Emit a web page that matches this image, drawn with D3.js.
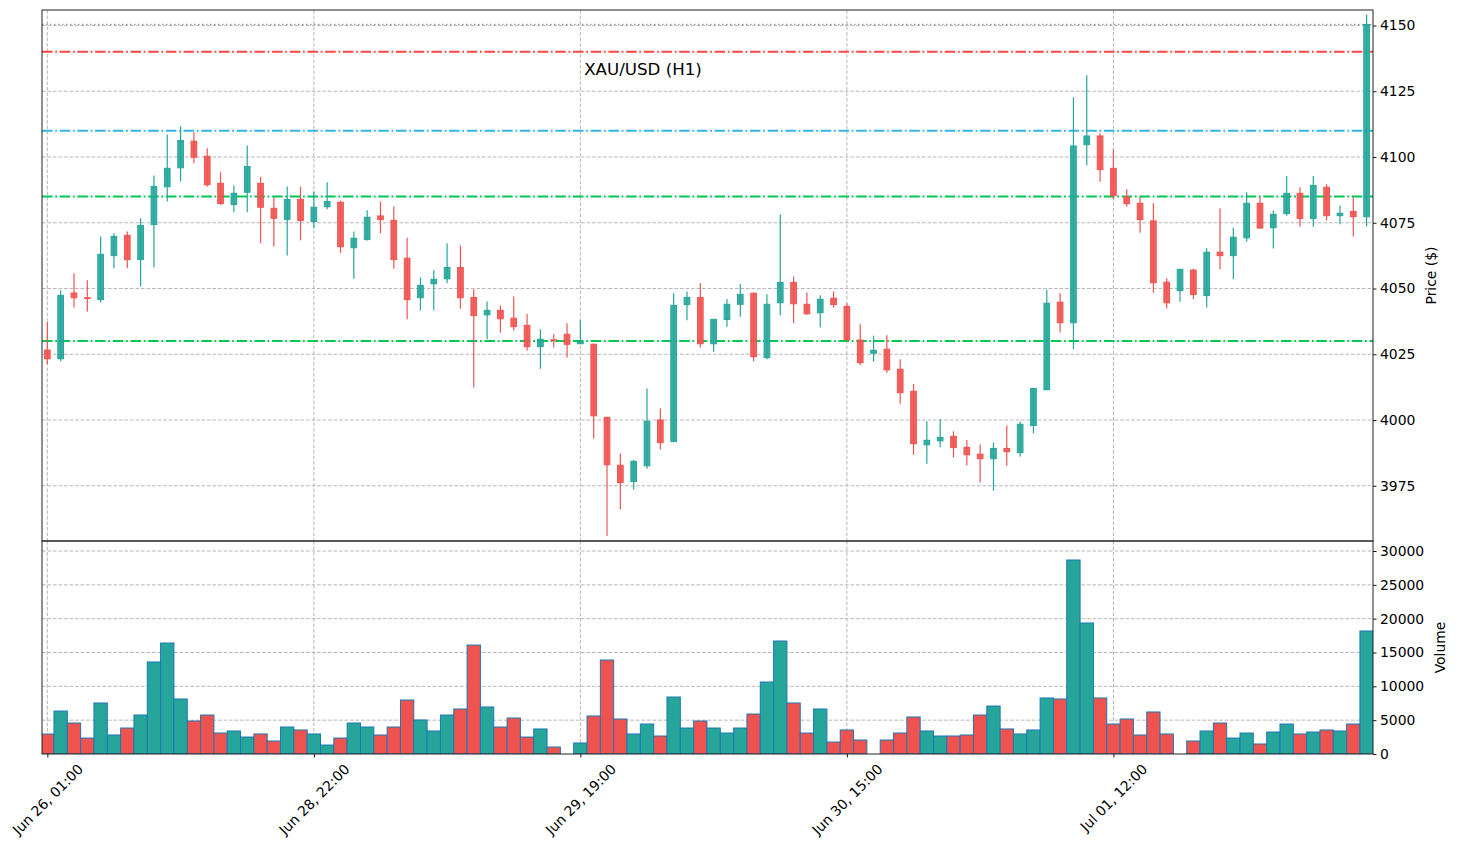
<!DOCTYPE html>
<html><head><meta charset="utf-8">
<script src="https://cdn.jsdelivr.net/npm/d3@7"></script>
<style>body{margin:0;background:#fff}svg{display:block;font-family:"DejaVu Sans",sans-serif}</style>
</head><body><svg id="c" width="1457" height="849"></svg>
<script>
const opens = [4026.6,4023.3,4048.3,4046.5,4045.8,4062.5,4070.2,4061.0,4074.3,4088.7,
4095.9,4106.0,4100.3,4090.0,4081.9,4086.6,4090.0,4080.5,4076.3,4083.9,
4075.5,4081.1,4082.8,4065.5,4068.6,4077.6,4075.9,4061.5,4046.5,4051.8,
4053.7,4058.0,4046.6,4040.0,4041.7,4038.7,4036.0,4027.9,4030.5,4032.6,
4029.0,4028.8,4001.0,3982.8,3976.6,3982.6,4000.0,3991.8,4043.9,4046.6,
4029.0,4038.2,4044.0,4048.2,4023.7,4044.6,4052.3,4044.0,4040.8,4046.3,
4043.2,4030.4,4025.4,4026.9,4019.3,4010.9,3990.6,3992.1,3993.8,3989.6,
3987.0,3985.3,3989.2,3987.6,3997.9,4011.5,4044.8,4037.0,4104.7,4108.0,
4095.7,4084.9,4082.4,4075.7,4052.4,4049.2,4057.0,4047.3,4063.8,4062.5,
4069.3,4082.4,4073.1,4078.5,4086.2,4076.6,4088.5,4077.7,4079.3,4077.3];
const highs = [4037.3,4049.3,4055.8,4053.1,4069.8,4071.0,4071.7,4076.7,4093.0,4108.6,
4111.7,4109.4,4103.3,4094.2,4089.2,4104.4,4092.5,4084.7,4088.8,4088.7,
4086.9,4090.4,4083.4,4071.7,4079.8,4083.1,4081.2,4069.3,4054.2,4056.9,
4067.2,4066.4,4049.7,4045.1,4043.6,4047.0,4040.3,4034.5,4032.6,4036.8,
4038.0,4029.1,4001.2,3987.3,3984.8,4012.0,4004.4,4048.2,4048.9,4052.1,
4038.3,4046.0,4051.7,4048.5,4047.8,4078.1,4054.6,4048.5,4047.4,4048.9,
4044.4,4036.4,4032.1,4032.2,4023.1,4013.7,3999.5,4000.3,3995.7,3992.4,
3990.7,3991.5,3997.9,3999.4,4012.0,4049.6,4048.2,4122.7,4131.1,4109.0,
4102.9,4087.7,4084.7,4082.4,4053.9,4057.3,4057.5,4065.3,4080.5,4073.1,
4086.6,4084.9,4079.7,4092.8,4088.5,4092.8,4089.6,4081.6,4084.7,4154.2];
const lows = [4021.3,4022.3,4042.8,4041.3,4044.7,4057.7,4057.7,4050.8,4058.0,4083.1,
4090.7,4097.6,4088.7,4081.8,4079.0,4079.0,4067.2,4066.0,4062.6,4068.3,
4072.9,4080.1,4063.6,4053.7,4068.3,4071.0,4057.5,4038.3,4041.6,4041.6,
4052.0,4042.3,4012.4,4030.7,4033.2,4034.0,4026.4,4019.5,4027.6,4023.8,
4028.9,3993.0,3955.9,3966.0,3973.6,3981.5,3988.8,3991.6,4037.9,4027.6,
4026.0,4035.5,4039.3,4022.3,4023.1,4039.8,4036.8,4040.0,4035.2,4042.7,
4030.3,4020.8,4022.2,4018.0,4006.2,3986.8,3983.4,3989.6,3985.8,3982.8,
3976.2,3973.1,3982.6,3986.1,3994.9,4011.4,4033.3,4026.9,4096.9,4090.6,
4084.0,4081.2,4071.2,4048.4,4042.5,4045.0,4045.9,4042.8,4057.3,4053.5,
4067.8,4072.8,4065.2,4077.7,4073.5,4073.5,4075.9,4074.4,4069.8,4073.6];
const closes = [4023.3,4047.4,4046.5,4046.2,4063.0,4069.8,4061.0,4074.0,4088.8,4095.7,
4106.3,4099.9,4089.5,4082.3,4086.2,4096.4,4080.9,4076.7,4083.9,4075.9,
4080.9,4083.1,4065.9,4069.1,4077.1,4076.2,4061.0,4045.8,4051.2,4053.5,
4058.0,4046.5,4039.7,4041.7,4038.5,4035.5,4027.9,4030.7,4030.2,4028.8,
4029.7,4001.6,3983.0,3976.2,3984.3,3999.5,3991.4,4043.6,4046.6,4029.0,
4038.3,4044.0,4047.8,4024.1,4044.0,4052.3,4044.2,4040.4,4045.9,4043.9,
4030.5,4021.8,4026.5,4019.1,4010.4,3991.0,3992.3,3993.4,3989.5,3986.8,
3985.3,3989.2,3988.0,3998.4,4012.0,4044.4,4037.0,4104.2,4108.0,4095.2,
4085.3,4082.3,4076.2,4052.2,4044.6,4057.3,4047.7,4063.8,4062.5,4069.5,
4082.4,4073.0,4078.2,4086.2,4076.6,4089.2,4077.7,4078.6,4077.3,4150.4];
const volumes = [2950,6350,4580,2360,7540,2810,3840,5760,13600,16400,
8130,4880,5760,3100,3400,2510,2960,1920,3990,3550,
2960,1330,2360,4580,3990,2810,3990,7980,5030,3400,
5760,6650,16100,6950,3990,5320,2510,3700,1030,0,
1630,5620,13890,5170,2960,4430,2660,8420,3840,4880,
3840,3100,3840,5910,10640,16700,7540,3100,6650,1770,
3550,2070,0,2070,3100,5470,3400,2660,2660,2810,
5760,7090,3700,2960,3550,8280,8130,28670,19360,8280,
4430,5170,2810,6210,2960,0,1920,3400,4580,2360,
3100,1480,3250,4430,2960,3250,3550,3400,4430,18180];
const tickIndex = [0,20,40,60,80];
const tickLabels = ["Jun 26, 01:00","Jun 28, 22:00","Jun 29, 19:00","Jun 30, 15:00","Jul 01, 12:00"];
const priceTicks = [3975,4000,4025,4050,4075,4100,4125,4150];
const volumeTicks = [0,5000,10000,15000,20000,25000,30000];
const levelPrices = [4140,4110,4085,4030];
const levelColors = ["#ff4444","#33b5e5","#00c853","#00c853"];
const chartTitle = "XAU/USD (H1)";

const UP="#26a69a", DOWN="#ef5350";
const L=42,R=1373,pT=10,pB=541,vT=541,vB=754;
const n=closes.length;
const svg=d3.select("#c");
const x=d3.scaleLinear().domain([-0.4,99.48]).range([L,R]);
const y=d3.scaleLinear().domain([3954,4155.9]).range([pB,pT]);
const yv=d3.scaleLinear().domain([0,31478]).range([vB,vT]);
const step=x(1)-x(0);
const defs=svg.append("defs");
defs.append("clipPath").attr("id","cp").append("rect").attr("x",L).attr("y",pT).attr("width",R-L).attr("height",pB-pT);
defs.append("clipPath").attr("id","cv").append("rect").attr("x",L).attr("y",vT).attr("width",R-L).attr("height",vB-vT);

// grids
const grid=svg.append("g").attr("stroke","#b0b0b0").attr("stroke-width",0.9).attr("stroke-dasharray","3.7,1.8");
priceTicks.forEach(p=>grid.append("line").attr("x1",L).attr("x2",R).attr("y1",y(p)).attr("y2",y(p)));
volumeTicks.filter(v=>v>0).forEach(v=>grid.append("line").attr("x1",L).attr("x2",R).attr("y1",yv(v)).attr("y2",yv(v)));
tickIndex.forEach(i=>{
  grid.append("line").attr("x1",x(i)).attr("x2",x(i)).attr("y1",pT).attr("y2",pB);
  grid.append("line").attr("x1",x(i)).attr("x2",x(i)).attr("y1",vT).attr("y2",vB);
});

// level lines
const lv=svg.append("g").attr("clip-path","url(#cp)");
levelPrices.forEach((p,k)=>lv.append("line").attr("x1",L).attr("x2",R).attr("y1",y(p)).attr("y2",y(p))
  .attr("stroke",levelColors[k]).attr("stroke-width",2).attr("stroke-dasharray","10.5,2.7,1.8,2.7"));
lv.append("line").attr("x1",L).attr("x2",R).attr("y1",y(closes[n-1])).attr("y2",y(closes[n-1]))
  .attr("stroke","#999").attr("stroke-width",1.2).attr("stroke-dasharray","1.5,2.5");

// candles
const idx=d3.range(n);
const cg=svg.append("g").attr("clip-path","url(#cp)");
cg.selectAll("line.w").data(idx).join("line").attr("class","w")
  .attr("x1",i=>x(i)).attr("x2",i=>x(i)).attr("y1",i=>y(highs[i])).attr("y2",i=>y(lows[i]))
  .attr("stroke",i=>closes[i]>=opens[i]?UP:DOWN).attr("stroke-width",1.2);
const bw=step*0.5-1;
cg.selectAll("rect.b").data(idx).join("rect").attr("class","b")
  .attr("x",i=>x(i)-bw/2).attr("width",bw)
  .attr("y",i=>y(Math.max(opens[i],closes[i])))
  .attr("height",i=>Math.max(0.6,Math.abs(y(opens[i])-y(closes[i]))))
  .attr("fill",i=>closes[i]>=opens[i]?UP:DOWN).attr("fill-opacity",0.9)
  .attr("stroke",i=>closes[i]>=opens[i]?UP:DOWN).attr("stroke-width",1);

// volume
const vg=svg.append("g").attr("clip-path","url(#cv)");
vg.selectAll("rect").data(idx.filter(i=>volumes[i]>0)).join("rect")
  .attr("x",i=>x(i-0.5)).attr("width",step)
  .attr("y",i=>yv(volumes[i])).attr("height",i=>vB-yv(volumes[i]))
  .attr("fill",i=>closes[i]>=opens[i]?UP:DOWN)
  .attr("stroke","#1f77b4").attr("stroke-width",1);

// frames
svg.append("rect").attr("x",L).attr("y",pT).attr("width",R-L).attr("height",pB-pT).attr("fill","none").attr("stroke","#222").attr("stroke-width",1);
svg.append("rect").attr("x",L).attr("y",vT).attr("width",R-L).attr("height",vB-vT).attr("fill","none").attr("stroke","#222").attr("stroke-width",1);

// axes
const fs="13.9px";
const ay=svg.append("g").attr("transform",`translate(${R},0)`)
  .call(d3.axisRight(y).tickValues(priceTicks).tickSize(3.5).tickPadding(3.5).tickFormat(d3.format("d")));
const av=svg.append("g").attr("transform",`translate(${R},0)`)
  .call(d3.axisRight(yv).tickValues(volumeTicks).tickSize(3.5).tickPadding(3.5).tickFormat(d3.format("d")));
const ax=svg.append("g").attr("transform",`translate(0,${vB})`)
  .call(d3.axisBottom(x).tickValues(tickIndex).tickSize(3.5).tickFormat((d,k)=>tickLabels[k]));
[ay,av,ax].forEach(g=>{g.select(".domain").remove();g.selectAll("text").attr("font-family","DejaVu Sans").attr("font-size",fs).attr("fill","#000");g.selectAll("line").attr("stroke","#000").attr("stroke-width",0.9);});
ax.selectAll("text").each(function(){
  const t=d3.select(this);
  const len=this.getComputedTextLength();
  const hh=(len+16)*0.7071;
  t.attr("text-anchor","middle").attr("y",0).attr("dy","0.35em")
   .attr("transform",`translate(0,${7+hh/2}) rotate(-45)`);
});

// labels
svg.append("text").attr("x",643).attr("y",75).attr("text-anchor","middle").attr("font-size","16.67px").attr("fill","#000").text(chartTitle);
svg.append("text").attr("transform",`translate(1431,${(pT+pB)/2}) rotate(-90)`).attr("text-anchor","middle").attr("dy","0.35em").attr("font-size",fs).attr("fill","#000").text("Price ($)");
svg.append("text").attr("transform",`translate(1440,${(vT+vB)/2}) rotate(-90)`).attr("text-anchor","middle").attr("dy","0.35em").attr("font-size",fs).attr("fill","#000").text("Volume");
</script></body></html>
